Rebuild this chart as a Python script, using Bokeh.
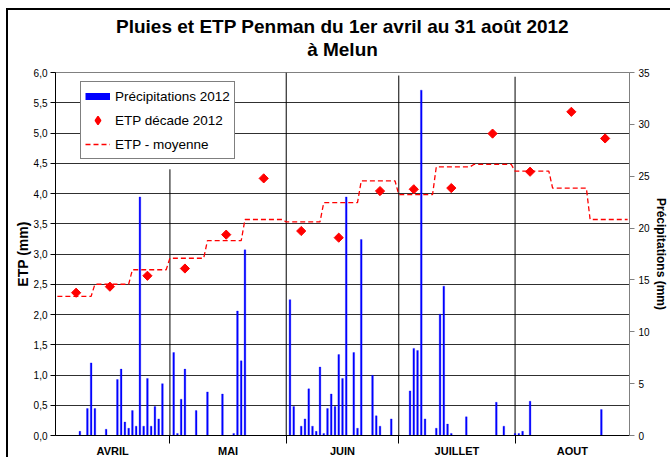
import numpy as np
from bokeh.plotting import figure
from bokeh.models import (ColumnDataSource, Range1d, LinearAxis, FixedTicker,
                          Legend, LegendItem, Title)
from bokeh.embed import file_html
from bokeh.resources import INLINE

# ---------------- data ----------------
# day index: 1 = 1 April 2012 ... 153 = 31 August 2012
rain_day = [7, 9, 10, 11, 14, 17, 18, 19, 20, 21, 22, 23, 24, 25, 26, 27, 28, 29,
            32, 33, 34, 35, 38, 41, 45, 48, 49, 50, 51,
            63, 64, 66, 67, 68, 69, 70, 71, 72, 73, 74, 75, 76, 77, 78, 80, 81, 82, 85, 86, 87, 90,
            95, 96, 97, 98, 99, 102, 103, 104, 105, 106, 110, 118, 120,
            123, 124, 125, 127, 146]
rain_mm = [0.4, 2.6, 7.0, 2.6, 0.6, 5.4, 6.4, 1.3, 0.7, 2.4, 0.9, 23.0, 0.9, 5.5, 0.9, 2.8, 1.6, 5.0,
           8.0, 0.2, 3.5, 6.4, 2.4, 4.2, 4.0, 0.2, 12.0, 7.2, 17.9,
           13.1, 2.8, 0.9, 1.6, 4.5, 0.9, 0.4, 6.6, 0.2, 2.6, 4.0, 2.8, 7.8, 5.5, 23.0, 8.0, 0.7, 18.9, 5.8, 1.9, 0.9, 1.6,
           4.3, 8.4, 8.2, 33.3, 1.6, 0.7, 11.7, 14.4, 1.1, 0.2, 1.8, 3.2, 0.9,
           0.2, 0.2, 0.4, 3.3, 2.5]

decade_start = [1, 11, 21, 31, 41, 51, 62, 72, 82, 92, 102, 112, 123, 133, 143]
decade_day = [6, 15, 25, 35, 46, 56, 66, 76, 87, 96, 106, 117, 127, 138, 147]
etp_2012 = [2.36, 2.46, 2.64, 2.76, 3.32, 4.25, 3.38, 3.27, 4.04, 4.07, 4.09, 4.99, 4.36, 5.35, 4.91]
etp_moy = [2.30, 2.50, 2.74, 2.93, 3.22, 3.57, 3.53, 3.85, 4.21, 3.98, 4.44, 4.48, 4.37, 4.09, 3.57]
n_days = 153

months = ["AVRIL", "MAI", "JUIN", "JUILLET", "AOUT"]
month_start = [1, 31, 62, 92, 123]
sep_top = [4.4, 6.0, 5.95, 5.93]

etp_ticks = [0, 0.5, 1, 1.5, 2, 2.5, 3, 3.5, 4, 4.5, 5, 5.5, 6]
rain_ticks = [0, 5, 10, 15, 20, 25, 30, 35]

title_line1 = "Pluies et ETP Penman du 1er avril au 31 août 2012"
title_line2 = "à Melun"

# ---------------- derived ----------------
days = np.arange(1, n_days + 1)
dec_idx = np.searchsorted(np.array(decade_start), days, side="right") - 1
daily_moy = np.array(etp_moy)[dec_idx]

edges = [0.5] + month_start[1:] + [n_days + 0.5]
month_pos = [(edges[i] + edges[i + 1]) / 2 for i in range(len(months))]

FONT = "Liberation Sans"

p = figure(width=664, height=449, x_range=Range1d(0.5, n_days + 0.5), y_range=Range1d(0, 6),
           output_backend="svg", toolbar_location=None,
           min_border_left=47, min_border_top=62, min_border_bottom=22, min_border_right=43)
p.styles = {"margin-left": "6px", "margin-top": "8px",
            "border-top": "2px solid black", "border-left": "2px solid black"}
p.extra_y_ranges = {"rain": Range1d(0, 35)}
p.background_fill_color = "white"
p.border_fill_color = "white"
p.outline_line_color = "#808080"

# titles: spacer (closest to plot), second line, then main line (outermost)
spacer = Title(text=" ", text_font=FONT, text_font_size="8px", standoff=2)
p.add_layout(spacer, "above")
t2 = Title(text=title_line2, align="center", text_font=FONT, text_font_size="19px",
           text_font_style="bold", text_color="black", standoff=0)
p.add_layout(t2, "above")
p.title.text = title_line1
p.title.align = "center"
p.title.text_font = FONT
p.title.text_font_size = "19px"
p.title.text_font_style = "bold"
p.title.text_color = "black"
p.title.standoff = 0

# grid
p.xgrid.visible = False
p.ygrid.ticker = FixedTicker(ticks=etp_ticks)
p.ygrid.grid_line_color = "#303030"
p.ygrid.grid_line_width = 1

# left axis
ya = p.yaxis[0]
ya.ticker = FixedTicker(ticks=etp_ticks)
ya.major_label_overrides = {t: f"{t:.1f}".replace(".", ",") for t in etp_ticks}
ya.axis_label = "ETP (mm)"
ya.axis_label_text_font = FONT
ya.axis_label_text_font_size = "14px"
ya.axis_label_text_font_style = "bold"
ya.axis_label_text_color = "black"
ya.axis_label_standoff = 0
ya.major_label_text_font = FONT
ya.major_label_text_font_size = "10px"
ya.major_label_text_color = "black"
ya.major_label_standoff = 3
ya.major_tick_out = 5
ya.major_tick_in = 0
ya.minor_tick_line_color = None
ya.axis_line_color = "black"

# right axis
ra = LinearAxis(y_range_name="rain", ticker=FixedTicker(ticks=rain_ticks),
                axis_label="Précipitations (mm)")
ra.axis_label_text_font = FONT
ra.axis_label_text_font_size = "12px"
ra.axis_label_text_font_style = "bold"
ra.axis_label_text_color = "black"
ra.axis_label_standoff = 1
ra.major_label_text_font = FONT
ra.major_label_text_font_size = "10px"
ra.major_label_text_color = "black"
ra.major_label_standoff = 4
ra.major_tick_out = 5
ra.major_tick_in = 0
ra.minor_tick_line_color = None
ra.axis_line_color = "#808080"
ra.major_tick_line_color = "#808080"
p.add_layout(ra, "right")

# bottom axis: month names, month separators as minor ticks
xa = p.xaxis[0]
xa.ticker = FixedTicker(ticks=month_pos, minor_ticks=month_start[1:])
xa.major_label_overrides = {pos: m for pos, m in zip(month_pos, months)}
xa.major_label_text_font = FONT
xa.major_label_text_font_size = "11px"
xa.major_label_text_font_style = "bold"
xa.major_label_text_color = "black"
xa.major_label_standoff = 1
xa.major_tick_line_color = None
xa.major_tick_out = 0
xa.major_tick_in = 0
xa.minor_tick_out = 8
xa.minor_tick_in = 0
xa.minor_tick_line_color = "black"
xa.axis_line_color = "black"

# month separators inside the plot
p.segment(x0=month_start[1:], y0=[0] * 4, x1=month_start[1:], y1=sep_top,
          line_color="black", line_width=1)

# rain bars
rain_src = ColumnDataSource(dict(day=rain_day, mm=rain_mm))
bars = p.vbar(x="day", top="mm", width=0.45, source=rain_src, y_range_name="rain",
              fill_color="#0000FF", line_color="#0000FF", line_width=0.3)

# ETP moyenne (daily step line)
moy = p.line(x=days, y=daily_moy, line_color="#FF0000", line_dash="5 3", line_width=1.3)

# ETP décade 2012
sc = p.scatter(x=decade_day, y=etp_2012, marker="square", angle=np.pi / 4, size=6.5,
               fill_color="#FF0000", line_color="#FF0000", line_width=1)

# legend-only symbols
leg_bar = p.line(x=[np.nan], y=[np.nan], line_color="#0000FF", line_width=7)
leg_dia = p.scatter(x=[np.nan], y=[np.nan], marker="diamond", size=8,
                    fill_color="#FF0000", line_color="#FF0000", line_width=1.5)
legend = Legend(items=[LegendItem(label="Précipitations 2012", renderers=[leg_bar]),
                       LegendItem(label="ETP décade 2012", renderers=[leg_dia]),
                       LegendItem(label="ETP - moyenne", renderers=[moy])],
                location=(25, 276))
legend.label_text_font = FONT
legend.label_text_font_size = "13.5px"
legend.label_text_color = "black"
legend.glyph_width = 25
legend.glyph_height = 20
legend.spacing = 4
legend.padding = 4
legend.margin = 0
legend.label_standoff = 5
legend.border_line_color = "black"
legend.border_line_width = 1
legend.background_fill_color = "white"
legend.background_fill_alpha = 1
p.add_layout(legend)

open("out.html", "w").write(file_html(p, INLINE))
